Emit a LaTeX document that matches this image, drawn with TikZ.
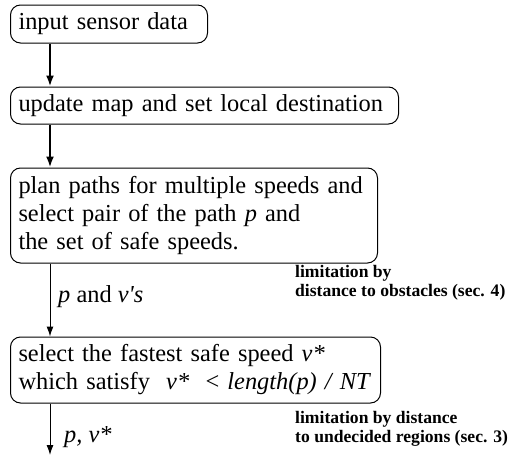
\documentclass[tikz,border=0pt]{standalone}
\usepackage{fontspec}
\setmainfont{Liberation Serif}
\usetikzlibrary{arrows.meta}
\begin{document}
\begin{tikzpicture}[x=1pt,y=1pt,
  procbox/.style={draw,line width=1pt,rounded corners=10pt,anchor=west,
    align=left,inner xsep=8pt,inner ysep=0pt,
    font=\fontsize{24.4}{28}\selectfont},
  thickarrow/.style={line width=2pt,-{Latex[length=11pt,width=8pt]}},
  thinarrow/.style={line width=1pt,-{Latex[length=10pt,width=7pt]}},
  edgelabel/.style={anchor=west,inner sep=0pt,font=\fontsize{24.4}{28}\selectfont},
  notelabel/.style={anchor=west,inner sep=0pt,align=left,
    font=\fontsize{17.6}{18.5}\selectfont\bfseries}]
\useasboundingbox (0,0) rectangle (530,-455);
\node[procbox,minimum width=197pt,minimum height=38pt,text width=181pt] (b1) at (10,-24) {\mbox{input sensor data}};
\node[procbox,minimum width=388pt,minimum height=37pt,text width=372pt] (b2) at (10,-105.5) {\mbox{update map and set local destination}};
\node[procbox,minimum width=367pt,minimum height=95pt,text width=351pt] (b3) at (10,-215.5) {\mbox{plan paths for multiple speeds and}\\\mbox{select pair of the path \textit{p} and}\\\mbox{the set of safe speeds.}};
\node[procbox,minimum width=370pt,minimum height=66pt,text width=354pt] (b4) at (10,-370) {\mbox{select the fastest safe speed \textit{v*}}\\\mbox{which satisfy\ \ \textit{v*}\ \ < \textit{length(p) / NT}}};
\coordinate (ax) at (50,0);
\coordinate (end) at (50,-455);
\draw[thickarrow] (b1.south -| ax) -- (b2.north -| ax);
\draw[thickarrow] (b2.south -| ax) -- (b3.north -| ax);
\draw[thinarrow] (b3.south -| ax) -- (b4.north -| ax);
\draw[thinarrow] (b4.south -| ax) -- (end);
\node[edgelabel] (l1) at (58,-297) {\textit{p} and \textit{v\textquotesingle s}};
\node[edgelabel] (l2) at (64,-437) {\textit{p, v*}};
\node[notelabel] (n1) at (295,-283) {limitation by\\distance to obstacles (sec. 4)};
\node[notelabel] (n2) at (295,-429) {limitation by distance\\to undecided regions (sec. 3)};
\end{tikzpicture}
\end{document}
